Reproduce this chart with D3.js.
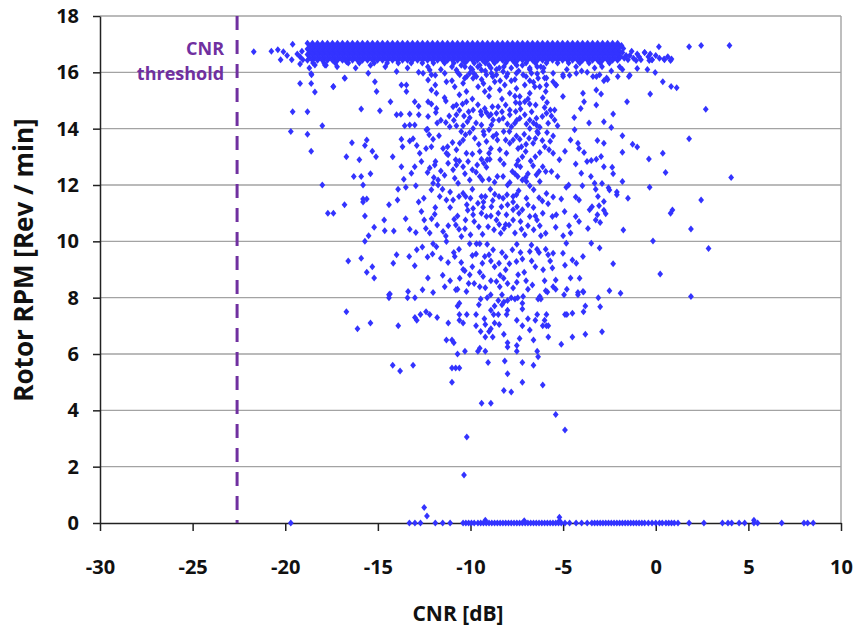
<!DOCTYPE html>
<html>
<head>
<meta charset="utf-8">
<script src="https://cdn.jsdelivr.net/npm/d3@7/dist/d3.min.js"></script>
<style>
html,body{margin:0;padding:0;background:#fff;}
svg text{font-family:"Open Sans",Lato,sans-serif;font-weight:bold;}
</style>
</head>
<body>
<svg id="chart" width="858" height="634"></svg>
<script>
// ---------- data ----------
const xTicks = [-30, -25, -20, -15, -10, -5, 0, 5, 10];
const yTicks = [0, 2, 4, 6, 8, 10, 12, 14, 16, 18];
const xTitle = "CNR [dB]";
const yTitle = "Rotor RPM [Rev / min]";
const thresholdCnr = -22.6;
const thresholdLabel = ["CNR", "threshold"];

// saturated band of points near rated rotor speed
const bandRpm = [17.03, 16.93, 16.83, 16.73, 16.63, 16.53, 16.43];
const bandCnrA = [-18.8,-18.53,-18.26,-17.99,-17.72,-17.45,-17.18,-16.91,-16.64,-16.37,-16.1,-15.83,-15.56,-15.29,-15.02,-14.75,-14.48,-14.21,-13.94,-13.67,-13.4,-13.13,-12.86,-12.59,-12.32,-12.05,-11.78,-11.51,-11.24,-10.97,-10.7,-10.43,-10.16,-9.89,-9.62,-9.35,-9.08,-8.81,-8.54,-8.27,-8.0,-7.73,-7.46,-7.19,-6.92,-6.65,-6.38,-6.11,-5.84,-5.57,-5.3,-5.03,-4.76,-4.49,-4.22,-3.95,-3.68,-3.41,-3.14,-2.87,-2.6,-2.33,-2.06];
const bandCnrB = [-18.67,-18.4,-18.13,-17.86,-17.59,-17.32,-17.05,-16.78,-16.51,-16.24,-15.97,-15.7,-15.43,-15.16,-14.89,-14.62,-14.35,-14.08,-13.81,-13.54,-13.27,-13.0,-12.73,-12.46,-12.19,-11.92,-11.65,-11.38,-11.11,-10.84,-10.57,-10.3,-10.03,-9.76,-9.49,-9.22,-8.95,-8.68,-8.41,-8.14,-7.87,-7.6,-7.33,-7.06,-6.79,-6.52,-6.25,-5.98,-5.71,-5.44,-5.17,-4.9,-4.63,-4.36,-4.09,-3.82,-3.55,-3.28,-3.01,-2.74,-2.47,-2.2,-1.93];
const bandFringe = [
[-19.1,16.75],[-19.35,16.65],[-19.2,16.55],[-19.05,16.45],[-18.5,16.33],[-17.9,16.33],[-17.3,16.33],[-16.6,16.33],[-16.0,16.33],[-15.2,16.33],[-14.5,16.33],[-13.9,16.33],[-13.2,16.33],[-12.6,16.33],[-12.0,16.33],[-11.4,16.33],[-10.9,16.33],[-10.3,16.33],[-9.8,16.33],[-9.2,16.33],[-8.7,16.33],[-8.1,16.33],[-7.6,16.33],[-7.0,16.33],[-6.5,16.33],[-5.9,16.33],[-5.3,16.33],[-4.7,16.33],[-4.1,16.33],[-3.6,16.33],[-3.0,16.33],[-2.5,16.33],
[-1.8,16.7],[-1.6,16.6],[-1.5,16.45],[-1.3,16.75],[-1.2,16.5],[-1.0,16.65],[-0.8,16.45],[-0.6,16.7],[-0.4,16.55],[-0.2,16.45],[0.0,16.6],[0.2,16.5],[0.45,16.47],[0.65,16.55],[0.85,16.47],[-1.7,16.5],[-1.9,16.55],[-1.4,16.6],[-0.9,16.55],[-0.3,16.65],[-1.75,16.85],[-1.85,16.95]
];

// scattered points
const scatterPoints = [
[-21.7,16.73],[-20.75,16.75],[-20.4,16.8],[-20.1,16.73],[-19.6,17.0],[-20.25,16.45],[-19.9,16.6],[-19.65,16.45],[-19.2,16.3],[-18.7,16.15],[-18.6,15.95],[-17.8,16.25],[-16.8,15.8],
[-19.2,15.6],[-18.6,15.6],[-18.4,15.3],[-17.4,15.5],[-19.6,14.6],[-18.8,14.6],[-15.9,14.7],[-19.7,13.9],[-18.8,13.8],[-18.0,14.1],[-16.4,13.5],[-15.6,13.6],[-15.7,13.4],[-18.6,13.2],[-16.7,13.0],[-16.0,12.9],[-15.3,13.2],[-15.1,13.0],[-16.3,12.3],[-15.9,12.3],[-15.4,12.4],[-18.0,12.0],[-15.8,12.0],[-15.8,11.5],[-15.6,11.5],[-15.8,11.4],[-16.8,11.3],[-17.7,11.0],[-17.4,11.0],[-15.7,10.9],[-15.2,10.5],[-15.5,10.2],[-15.7,10.0],[-16.6,9.3],[-15.9,9.4],[-15.6,8.9],[-15.3,9.1],[-15.2,8.7],[-16.7,7.5],[-16.1,6.9],[-15.4,7.1],
[-18.58,15.91],[-18.4,16.26],[-17.86,16.26],[-16.69,16.38],[-15.52,15.97],[-16.78,15.79],[-15.16,15.67],[-15.07,15.32],[-17.41,15.49],
[-13.99,16.03],[-12.56,15.97],[-12.2,16.08],[-12.11,15.91],[-11.39,15.97],[-10.76,16.08],[-10.58,15.91],[-10.31,15.79],[-10.04,15.97],[-9.68,15.85],[-9.41,16.08],[-9.14,15.91],[-8.87,15.97],[-8.6,15.91],[-8.24,16.03],[-8.06,15.85],[-7.52,15.97],[-7.16,15.91],[-6.71,15.97],[-6.35,15.79],[-6.08,16.03],[-5.54,15.97],[-5.01,15.91],[-4.29,15.97],[-3.39,15.85],[-3.03,15.91],[-13.73,15.55],[-13.46,15.55],[-13.46,15.32],[-12.29,15.73],[-12.11,15.37],[-11.84,15.26],[-11.3,15.67],[-10.85,15.49],[-10.4,15.61],[-10.22,15.32],[-9.86,15.79],[-9.59,15.49],[-9.23,15.32],[-8.96,15.43],[-8.69,15.67],[-8.42,15.37],[-8.15,15.55],[-7.88,15.26],[-7.52,15.43],[-7.34,15.14],[-7.07,15.55],[-6.8,15.26],[-6.53,15.49],[-6.26,15.49],[-5.94,15.32],[-5.54,15.67],[-5.37,15.55],[-5.01,15.14],[-3.93,15.26],[-3.21,15.37],
[-11.0,16.2],[-10.7,16.0],[-10.5,16.25],[-10.2,15.85],[-10.0,16.15],[-9.8,15.95],[-9.6,16.2],[-9.4,15.75],[-9.2,16.05],[-9.0,16.25],[-8.8,15.85],[-8.6,16.1],[-8.4,15.7],[-8.2,16.2],[-8.0,15.95],[-7.8,16.15],[-7.6,15.75],[-7.4,16.05],[-7.2,16.25],[-7.0,15.85],[-6.8,16.1],[-6.6,15.65],[-6.4,15.95],[-6.2,16.2],[-6.0,15.8],[-11.6,16.1],[-11.9,15.9],[-12.3,16.2],[-12.8,16.0],[-13.4,16.15],[-14.6,16.2],[-15.4,16.25],[-16.2,16.15],[-17.2,16.2],[-4.8,16.1],[-4.3,16.2],[-3.7,16.0],[-2.9,16.2],[-2.4,16.05],[-1.8,16.1],
[-10.3,16.2],[-9.9,16.1],[-9.5,16.25],[-8.9,16.15],[-8.45,16.15],[-7.5,16.25],[-6.8,16.15],[-6.4,16.2],[-6.05,16.15],[-5.9,15.8],[-5.4,15.55],[-5.0,15.85],[-4.65,15.9],[-4.0,16.05],[-3.3,16.15],[-3.2,15.85],[-2.65,15.8],[-2.05,15.85],[-1.4,15.9],[-1.95,16.2],
[-14.89,14.64],[-14.32,14.96],[-13.01,14.96],[-12.29,14.96],[-12.11,14.88],[-11.84,14.72],[-11.33,14.98],[-10.94,14.78],[-10.76,14.84],[-10.43,14.88],[-10.22,14.96],[-9.86,14.66],[-9.45,14.61],[-9.23,14.72],[-8.82,14.78],[-8.51,14.78],[-8.1,14.84],[-7.88,14.66],[-7.56,14.93],[-7.34,14.9],[-7.07,14.96],[-6.8,14.88],[-6.48,14.84],[-5.87,14.93],[-5.69,14.66],[-5.46,14.66],[-4.05,14.72],[-3.87,14.96],[-3.21,14.84],
[-13.99,14.49],[-13.76,14.51],[-13.28,14.52],[-12.79,14.49],[-12.29,14.43],[-11.87,14.57],[-11.15,14.45],[-10.76,14.49],[-10.35,14.45],[-10.04,14.39],[-9.41,14.49],[-9.14,14.57],[-9.0,14.45],[-8.78,14.31],[-8.24,14.37],[-7.88,14.49],[-7.56,14.61],[-7.34,14.37],[-7.07,14.49],[-6.8,14.31],[-6.44,14.37],[-6.12,14.43],[-5.9,14.55],[-5.63,14.45],[-5.46,14.31],[-13.55,14.1],[-13.28,14.13],[-13.01,14.13],[-12.32,13.98],[-11.33,14.22],[-11.12,14.07],[-10.76,14.1],[-10.4,14.1],[-10.17,14.25],[-9.86,14.01],[-9.41,14.13],[-8.87,14.13],[-8.46,14.31],[-8.01,14.17],[-7.79,14.07],[-7.61,14.19],[-6.98,14.17],[-6.8,14.01],[-6.44,14.13],[-6.26,14.05],[-5.81,14.19],[-4.38,13.96],
[-13.73,13.62],[-13.67,13.36],[-13.28,13.56],[-13.1,13.64],[-12.74,13.13],[-12.38,13.96],[-12.23,13.78],[-12.11,13.36],[-12.02,13.62],[-11.89,12.83],[-11.24,13.36],[-11.21,13.07],[-10.97,13.51],[-10.58,13.48],[-10.27,13.78],[-10.04,13.86],[-9.77,13.66],[-9.27,13.78],[-9.14,13.54],[-9.0,13.96],[-8.78,13.72],[-8.55,13.6],[-8.21,13.9],[-7.88,13.48],[-7.7,13.6],[-7.52,13.74],[-7.34,13.62],[-7.25,13.36],[-6.84,13.66],[-6.62,13.48],[-6.35,13.84],[-6.12,13.58],[-5.99,13.36],[-5.87,13.86],[-5.76,13.25],[-5.54,13.74],[-4.2,13.48],[-4.14,13.3],[-3.87,13.15],[-3.15,13.58],[-7.43,13.3],[-7.02,13.19],[-6.26,13.15],[-5.54,13.13],[-9.5,13.19],[-9.0,13.13],[-8.42,13.25],[-8.06,13.13],[-10.22,13.13],[-10.76,13.25],[-11.48,13.3],
[-13.73,12.65],[-13.19,12.42],[-13.01,12.65],[-12.65,12.83],[-12.32,12.44],[-11.98,12.27],[-11.93,12.71],[-11.3,13.13],[-11.21,12.77],[-10.94,12.54],[-10.76,12.71],[-10.4,12.65],[-10.13,12.83],[-9.9,12.54],[-9.64,12.71],[-9.41,12.91],[-9.28,12.77],[-9.14,12.63],[-8.96,12.91],[-8.55,12.3],[-8.24,12.3],[-7.74,12.48],[-7.52,12.71],[-7.43,12.87],[-7.31,12.65],[-7.2,12.18],[-7.02,12.27],[-6.62,12.68],[-6.44,12.36],[-6.3,12.48],[-5.94,12.48],[-5.63,12.48],[-4.32,12.75],[-4.02,12.42],[-3.71,12.83],[-3.48,12.87],[-3.21,12.91],[-3.3,12.06],[-9.36,12.18],[-10.04,12.18],[-10.67,12.06],[-11.75,12.18],[-10.85,12.24],[-6.98,12.12],[-7.88,12.09],[-6.26,12.12],
[-13.91,11.85],[-13.94,11.47],[-13.49,11.92],[-12.95,11.97],[-12.65,11.06],[-12.52,11.53],[-12.11,11.83],[-12.02,12.06],[-11.75,12.0],[-11.51,11.85],[-11.66,11.59],[-11.3,11.47],[-10.94,11.47],[-10.62,11.59],[-10.4,11.71],[-10.26,11.59],[-10.0,11.53],[-9.9,11.85],[-9.41,11.59],[-9.2,11.59],[-8.93,11.85],[-8.69,11.67],[-8.46,11.59],[-8.24,11.53],[-8.03,11.65],[-7.7,11.59],[-7.52,11.65],[-7.2,11.12],[-6.98,11.53],[-6.8,11.97],[-6.59,11.83],[-6.3,11.55],[-6.12,11.43],[-5.81,11.33],[-5.54,11.57],[-4.83,11.92],[-4.32,11.57],[-4.14,11.47],[-3.96,11.97],[-3.57,11.12],[-3.44,11.23],[-3.24,11.85],[-3.12,11.59],[-3.06,11.26],[-8.87,11.23],[-8.33,11.23],[-7.7,11.12],[-9.32,11.21],[-9.86,11.17],
[-14.66,10.76],[-14.63,10.38],[-14.14,10.37],[-13.28,10.43],[-12.95,10.31],[-12.41,10.46],[-12.5,10.76],[-11.93,10.96],[-11.8,10.58],[-11.48,10.35],[-11.33,10.19],[-10.88,10.78],[-10.79,10.58],[-10.62,10.43],[-10.49,10.17],[-10.27,10.76],[-10.0,10.23],[-9.86,10.94],[-9.55,10.52],[-9.41,11.0],[-9.14,10.88],[-9.05,10.52],[-8.73,10.41],[-8.6,10.76],[-8.37,10.29],[-8.19,10.46],[-8.06,10.94],[-7.92,10.58],[-7.7,10.76],[-7.49,11.23],[-7.38,11.0],[-7.25,10.43],[-7.07,10.23],[-6.8,10.88],[-6.59,10.41],[-6.41,10.76],[-6.26,10.55],[-5.94,10.29],[-5.58,10.88],[-5.37,10.94],[-4.92,11.06],[-4.68,10.55],[-4.32,10.88],[-4.14,10.7],[-3.66,10.46],[-3.24,10.76],[-3.15,10.94],
[-13.31,9.46],[-13.01,9.13],[-12.32,9.44],[-12.02,9.91],[-12.05,9.55],[-11.84,9.81],[-11.3,9.99],[-11.21,9.25],[-10.85,9.46],[-10.62,9.72],[-10.31,8.96],[-10.04,9.91],[-9.9,9.1],[-9.68,9.91],[-9.5,9.91],[-9.36,9.22],[-9.23,9.46],[-9.0,9.52],[-8.78,9.7],[-8.46,9.22],[-8.1,8.99],[-7.74,9.7],[-7.52,9.28],[-7.2,9.37],[-6.8,9.64],[-6.71,9.87],[-6.41,9.72],[-5.94,9.72],[-5.81,9.52],[-5.54,9.58],[-6.08,8.99],[-5.58,9.05],[-5.01,9.58],[-4.83,9.93],[-4.5,9.34],[-4.29,9.22],[-3.93,9.46],[-3.48,9.93],[-3.03,9.76],[-14.17,9.22],[-13.99,9.52],
[-14.35,8.13],[-13.37,8.22],[-12.59,8.28],[-12.02,8.18],[-11.39,8.39],[-10.79,8.28],[-10.58,8.69],[-10.22,8.22],[-10.04,8.81],[-9.5,8.39],[-9.32,8.75],[-8.91,8.1],[-8.6,8.57],[-8.42,8.39],[-8.21,8.69],[-7.7,8.34],[-7.43,8.81],[-7.16,8.04],[-6.66,8.45],[-6.26,8.04],[-5.94,8.25],[-5.54,8.39],[-5.4,8.63],[-4.95,8.1],[-4.2,8.18],[-4.11,8.69],[-3.93,8.22],
[-10.9,14.3],[-10.5,13.9],[-10.1,14.6],[-9.7,14.2],[-9.3,13.9],[-8.9,14.5],[-8.6,13.8],[-8.3,14.6],[-7.9,13.9],[-7.5,14.3],[-7.1,13.8],[-6.7,14.6],[-6.4,13.9],[-10.8,12.9],[-10.3,12.4],[-9.9,13.1],[-9.5,12.3],[-9.1,12.9],[-8.7,12.1],[-8.4,12.9],[-8.0,12.0],[-7.6,12.4],[-7.2,13.0],[-6.9,12.4],[-6.5,13.0],[-11.1,11.2],[-10.7,10.9],[-10.2,11.3],[-9.8,10.7],[-9.3,11.4],[-8.9,10.9],[-8.5,11.0],[-8.1,10.6],[-7.7,11.4],[-7.3,10.7],[-6.9,11.3],[-6.5,10.9],[-6.1,11.0],[-10.9,9.6],[-10.4,9.0],[-9.9,9.5],[-9.5,8.9],[-9.1,9.9],[-8.7,9.1],[-8.3,9.6],[-7.9,9.2],[-7.5,9.9],[-7.1,8.9],[-6.7,9.3],[-6.3,9.6],[-10.7,8.3],[-9.8,8.5],[-8.9,8.6],[-8.0,8.5],[-7.0,8.6],[-12.1,10.8],[-11.6,12.5],[-12.4,13.3],[-11.8,14.2],[-5.2,12.9],[-5.0,10.2],[-4.6,13.6],[-12.6,9.8],[-11.5,8.8],[-5.3,14.1],
[0.17,16.91],[1.8,16.91],[2.45,16.95],[3.98,16.95],[-0.6,16.7],[-1.06,16.42],[-0.35,16.42],[-0.2,16.45],[0.47,16.45],[0.8,16.42],[-0.45,16.1],[-1.0,16.14],[-0.03,15.99],[-1.45,15.85],[-2.6,15.75],[-2.8,15.7],[0.38,15.67],[0.83,15.5],[1.13,15.45],[-0.3,15.23],[-2.95,15.23],[-1.55,14.96],[2.7,14.69],[-2.3,14.52],[-2.8,14.25],[-2.4,14.04],[1.8,13.64],[-1.8,13.75],[-2.8,13.48],[-1.25,13.45],[-1.0,13.35],[-1.8,13.16],[0.38,13.13],[-0.37,12.92],[-2.95,13.01],[-2.35,12.63],[0.53,12.44],[4.07,12.27],[-1.8,12.12],[-0.33,11.92],[-2.5,11.82],[-2.1,11.65],[-1.5,11.53],[2.45,11.47],[-2.8,11.41],[0.9,11.11],[0.8,11.0],[-3.0,10.67],[-1.75,10.4],[1.9,10.44],[-0.15,10.01],[2.85,9.75],[-2.3,9.2],[0.24,8.84],[-2.5,8.25],[-1.9,8.16],[1.9,8.04],[-3.0,7.68],[-2.9,6.79],
[-2.8,12.65],[-2.3,12.4],[-2.9,12.05],[-2.55,11.9],[-2.1,11.75],[-2.8,11.1],[-2.7,10.98],
[-14.4,8.1],[-14.4,8.0],[-13.4,8.0],[-13.0,8.0],[-13.9,7.0],[-14.2,5.6],[-13.8,5.4],[-13.1,5.6],[-13.0,7.3],[-12.9,7.2],[-12.7,7.4],[-12.4,7.5],[-12.2,7.4],[-11.8,7.3],[-11.2,7.1],[-11.3,6.5],[-11.0,6.5],[-10.9,6.4],[-10.7,6.0],[-11.0,5.5],[-10.8,5.5],[-10.6,5.5],[-11.0,5.0],[-10.3,6.1],[-10.6,7.2],[-10.6,7.4],[-10.4,7.1],[-10.2,7.4],[-10.7,7.7],[-10.6,7.8],[-9.6,6.1],[-9.2,6.1],[-9.05,5.7],[-9.4,4.25],[-8.9,4.25],[-10.2,3.05],[-10.35,1.7],[-8.2,4.7],[-7.8,4.65],[-8.0,5.3],[-8.15,5.75],[-7.2,5.0],[-6.1,4.9],[-6.6,5.6],[-7.2,5.7],[-6.35,5.9],[-5.4,3.85],[-4.9,3.3],[-7.5,6.1],[-7.5,6.3],[-9.5,6.2],[-9.2,6.6],[-8.8,6.6],[-9.0,6.8],[-8.2,6.7],[-8.0,6.4],[-8.0,6.25],[-7.35,6.55],[-6.6,6.5],[-5.8,6.6],[-5.8,7.0],[-5.1,6.35],[-4.5,6.6],[-3.8,6.7],[-3.9,7.5],[-4.9,7.4],[-4.8,7.4],[-6.1,7.0],[-6.0,7.2],[-5.9,7.0],[-5.9,7.4],[-6.4,7.4],[-6.5,7.2],[-6.8,6.85],[-7.2,7.0],[-6.9,7.25],[-7.5,7.2],[-7.2,7.6],[-8.0,7.55],[-8.05,7.4],[-8.45,7.05],[-8.5,7.4],[-8.7,7.1],[-8.9,6.9],[-9.2,7.05],[-9.45,6.8],[-9.7,7.0],[-9.25,7.25],[-8.75,7.4],[-8.9,7.55],[-8.7,7.7],[-9.7,7.4],[-9.55,7.75],[-9.45,7.95],[-9.1,8.0],[-8.5,7.9],[-8.3,7.75],[-8.2,7.85],[-8.0,7.9],[-7.8,8.0],[-7.6,7.95],[-7.45,8.0],[-8.3,8.1],[-7.2,7.8],[-6.35,7.95],[-6.2,7.95],[-5.85,8.2],[-5.4,8.3],[-4.8,8.3],[-3.9,8.2],[-4.2,8.1],[-3.8,7.7],[-3.1,8.0],[-4.5,7.45],[-6.4,6.1]
];

// additional points in the dense core of the cloud
const corePoints = [
[-11.4,15.1],[-10.6,15.2],[-9.9,15.05],[-9.0,15.15],[-8.3,15.05],[-7.6,15.15],[-6.9,15.05],[-6.1,15.1],[-11.9,15.55],[-11.0,15.7],[-9.3,15.6],[-7.8,15.7],[-6.8,15.7],[-5.9,15.55],[-12.8,14.8],[-11.6,14.3],[-10.6,14.65],[-9.6,14.85],[-8.6,14.55],[-7.3,14.7],[-6.6,14.2],[-6.0,14.75],[-12.9,13.4],[-11.7,13.75],[-10.4,13.6],[-9.55,13.45],[-8.9,13.3],[-8.1,13.6],[-7.0,13.45],[-6.5,13.65],[-5.7,13.55],[-12.2,12.6],[-11.4,12.35],[-10.6,12.85],[-9.7,12.45],[-9.0,12.2],[-8.2,12.75],[-7.45,12.3],[-6.75,12.85],[-6.1,12.65],[-5.3,12.3],[-12.8,11.4],[-11.9,11.2],[-11.1,11.75],[-10.15,11.1],[-9.6,11.35],[-8.8,11.45],[-8.0,11.3],[-7.4,11.8],[-6.6,11.2],[-5.9,11.7],[-5.1,11.5],[-13.5,10.8],[-12.2,10.3],[-11.2,10.55],[-10.3,10.45],[-9.35,10.25],[-8.45,10.6],[-7.6,10.3],[-6.9,10.55],[-6.2,10.2],[-5.4,10.5],[-4.6,10.3],[-12.9,9.7],[-11.6,9.4],[-10.5,9.25],[-9.7,9.55],[-8.9,9.3],[-8.1,9.45],[-7.3,9.6],[-6.5,9.1],[-5.7,9.3],[-4.9,9.15],[-12.3,8.7],[-11.1,8.6],[-10.1,8.5],[-9.2,8.35],[-8.4,8.8],[-7.5,8.55],[-6.9,8.3],[-6.0,8.6],[-4.6,8.7],[-13.6,12.2],[-14.2,13.0],[-14.4,11.3],[-4.9,13.2],[-4.7,12.0],[-4.4,14.4],[-3.6,14.2],[-3.5,12.3]
];

// points lying on / just above zero rpm (turbine idle)
const zeroCnr = [-19.7,-13.3,-13.0,-12.7,-11.9,-11.5,-11.1,-10.4,-10.25,-10.1,-9.95,-9.8,-9.6,-9.45,-9.3,-9.15,-9.0,-8.85,-8.7,-8.55,-8.4,-8.25,-8.1,-7.95,-7.8,-7.65,-7.5,-7.35,-7.2,-7.05,-6.9,-6.75,-6.6,-6.45,-6.3,-6.15,-6.0,-5.85,-5.7,-5.55,-5.4,-5.25,-5.1,-4.9,-4.65,-4.3,-4.0,-3.7,-3.45,-3.3,-3.15,-3.0,-2.85,-2.7,-2.55,-2.4,-2.25,-2.1,-1.95,-1.8,-1.65,-1.5,-1.35,-1.2,-1.05,-0.9,-0.75,-0.6,-0.4,-0.2,0.0,0.2,0.35,0.55,0.7,0.85,1.0,1.2,1.8,2.6,3.6,3.9,4.1,4.5,4.8,5.3,5.5,6.8,8.0,8.2,8.5];
const nearZeroPoints = [[-12.5,0.55],[-12.35,0.25],[-9.2,0.1],[-7.1,0.08],[-5.2,0.2],[-5.2,0.08],[5.3,0.1]];

// ---------- drawing ----------
const plot = {left: 100, right: 841, top: 16, bottom: 523};
const svg = d3.select("#chart");

const x = d3.scaleLinear().domain([-30, 10]).range([plot.left, plot.right]);
const y = d3.scaleLinear().domain([0, 18]).range([plot.bottom, plot.top]);

// horizontal gridlines
svg.append("g")
  .selectAll("line")
  .data(yTicks.filter(d => d > 0))
  .join("line")
  .attr("x1", plot.left).attr("x2", plot.right)
  .attr("y1", d => y(d)).attr("y2", d => y(d))
  .attr("stroke", "#a3a3a3").attr("stroke-width", 1.4);

// right border
svg.append("line")
  .attr("x1", plot.right).attr("x2", plot.right)
  .attr("y1", plot.top).attr("y2", plot.bottom)
  .attr("stroke", "#a3a3a3").attr("stroke-width", 1.4);

// x axis
const xAxis = svg.append("g")
  .attr("transform", `translate(0,${plot.bottom})`)
  .call(d3.axisBottom(x).tickValues(xTicks).tickSize(8).tickSizeOuter(0).tickFormat(d => String(d)));
xAxis.select(".domain").attr("stroke", "#222").attr("stroke-width", 1.5);
xAxis.selectAll(".tick line").attr("stroke", "#222").attr("stroke-width", 1.5);
xAxis.selectAll(".tick text")
  .attr("y", 51).attr("dy", "0")
  .attr("fill", "#111").style("font-size", "20px");

// y axis
const yAxis = svg.append("g")
  .attr("transform", `translate(${plot.left},0)`)
  .call(d3.axisLeft(y).tickValues(yTicks).tickSize(7).tickSizeOuter(0).tickPadding(14).tickFormat(d => String(d)));
yAxis.select(".domain").attr("stroke", "#222").attr("stroke-width", 1.5);
yAxis.selectAll(".tick line").attr("stroke", "#222").attr("stroke-width", 1.5);
yAxis.selectAll(".tick text")
  .attr("fill", "#111").style("font-size", "20px");

// marker shape
const diamond = "M0,-3.5L2.9,0L0,3.5L-2.9,0Z";
const markColor = "#3333ff";

const bandPoints = [];
bandRpm.forEach((r, i) => {
  (i % 2 === 0 ? bandCnrA : bandCnrB).forEach(c => bandPoints.push([c, r]));
});
const allPoints = bandPoints
  .concat(bandFringe)
  .concat(scatterPoints)
  .concat(corePoints)
  .concat(zeroCnr.map(c => [c, 0]))
  .concat(nearZeroPoints);

svg.append("g")
  .selectAll("path")
  .data(allPoints)
  .join("path")
  .attr("d", diamond)
  .attr("transform", d => `translate(${x(d[0])},${y(d[1])})`)
  .attr("fill", markColor);

// CNR threshold line
svg.append("line")
  .attr("x1", x(thresholdCnr)).attr("x2", x(thresholdCnr))
  .attr("y1", plot.top).attr("y2", plot.bottom)
  .attr("stroke", "#7030a0").attr("stroke-width", 3)
  .attr("stroke-dasharray", "14,10");

svg.append("g")
  .selectAll("text")
  .data(thresholdLabel)
  .join("text")
  .attr("x", x(thresholdCnr) - 13)
  .attr("y", (d, i) => 55 + i * 25)
  .attr("text-anchor", "end")
  .attr("fill", "#7030a0")
  .style("font-size", "18px")
  .text(d => d);

// axis titles
svg.append("text")
  .attr("x", 458).attr("y", 621)
  .attr("text-anchor", "middle")
  .attr("fill", "#111")
  .style("font-size", "21px")
  .text(xTitle);

svg.append("text")
  .attr("transform", "translate(33,260) rotate(-90)")
  .attr("text-anchor", "middle")
  .attr("fill", "#111")
  .style("font-size", "26px")
  .text(yTitle);
</script>
</body>
</html>
